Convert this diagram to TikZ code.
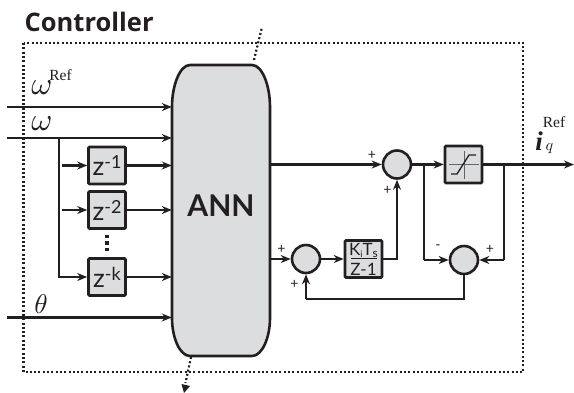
\documentclass[tikz,border=0pt]{standalone}
\usepackage{fontspec}
\setmainfont{Lato}
\newfontfamily\serifA{Liberation Serif}
\newfontfamily\titlef{Open Sans}
\usetikzlibrary{arrows.meta}
\definecolor{ink}{HTML}{231F20}
\definecolor{fillg}{HTML}{DCDDDF}
\newcommand{\fs}[1]{\fontsize{#1}{#1}\selectfont}
\newcommand{\zpow}[1]{\fs{26}z\raisebox{7pt}{\fs{18}-#1}}
\tikzset{
  x=1pt,y=-1pt,
  wire/.style={draw=ink,line width=2.4pt},
  sig/.style={wire,-{Stealth[length=10pt,width=8pt]}},
  sumnode/.style={circle,draw=ink,fill=fillg,line width=2.6pt,minimum size=28pt,inner sep=0pt},
  blockbox/.style={draw=ink,fill=fillg,line width=2.6pt,rounded corners=1pt,minimum width=37pt,minimum height=37pt,inner sep=0pt,text=ink},
  dotline/.style={draw=ink,line width=2.2pt,dash pattern=on 2pt off 2.3pt},
  signl/.style={inner sep=0pt,text=ink,font=\fs{14}},
  mathl/.style={inner sep=0pt,text=ink},
  refl/.style={inner sep=0pt,text=ink,font=\serifA\fs{15.5}},
}
\begin{document}
\begin{tikzpicture}
\useasboundingbox (0,0) rectangle (574,392);
% frame
\node[inner sep=0pt,text=ink,font=\titlef\bfseries\fs{25.5},anchor=west] (title) at (24.5,22) {Controller};
\coordinate (fa) at (23.5,43);
\coordinate (fb) at (523,372);
\draw[dotline] (fa) rectangle (fb);
% ANN
\path[draw=ink,fill=fillg,line width=2.6pt] (190,65) -- (252,65) .. controls (262,65) and (270,85) .. (270,107)
  -- (270,318) .. controls (270,338) and (262,356) .. (252,356) -- (190,356)
  .. controls (180,356) and (172,338) .. (172,318) -- (172,107) .. controls (172,85) and (180,65) .. (190,65) -- cycle;
\node[minimum width=98pt,minimum height=291pt,inner sep=0pt,text=ink,font=\bfseries\fs{30}] (ann) at (221,206) {ANN};
% delay blocks
\node[blockbox] (z1) at (107,165.5) {\zpow{1}};
\node[blockbox] (z2) at (107,210) {\zpow{2}};
\node[blockbox] (zk) at (107,277) {\zpow{k}};
% other blocks
\node[sumnode] (s1) at (397,164.5) {};
\node[sumnode] (s2) at (306,259) {};
\node[sumnode] (s3) at (464,260) {};
\node[blockbox] (sat) at (463.5,164.5) {};
\node[blockbox,font=\fs{15}] (ki) at (363.5,259) {};
\node[inner sep=0pt,text=ink,font=\fs{17}] (kit) at (363.5,250.5) {K\raisebox{-2pt}{\fs{9}i}T\raisebox{-2pt}{\fs{12}s}};
\node[inner sep=0pt,text=ink,font=\fs{17}] (kib) at (363.5,269) {Z-1};
\draw[ink,line width=1.2pt] (351,258.5) -- (377,258.5);
% saturation symbol
\draw[ink!70,line width=0.8pt] (449,164.5) -- (479,164.5) (464,151) -- (464,179);
\draw[ink,line width=1.3pt] (451,174) -- (457,174) -- (469,155) -- (476,155);
% inputs
\coordinate (inA) at (7,107);
\coordinate (inB) at (7,138);
\coordinate (inC) at (7,317.5);
\draw[sig] (inA) -- (ann.west |- inA);
\draw[sig] (inB) -- (ann.west |- inB);
\draw[sig] (inC) -- (ann.west |- inC);
\coordinate (tap) at (59,138);
\draw[wire] (tap) -- (59,277) -- (62,277);
\coordinate (b1) at (62,165.5);
\coordinate (b2) at (62,210);
\draw[sig] (b1) -- (z1);
\draw[sig] (b2) -- (z2);
\draw[sig] (59,277) -- (zk);
\draw[sig] (z1) -- (ann.west |- z1);
\draw[sig] (z2) -- (ann.west |- z2);
\draw[sig] (zk) -- (ann.west |- zk);
% dots
\draw[ink,line width=4pt,dash pattern=on 3.5pt off 3pt] (107,234.5) -- (107,252.5);
% outputs of ANN
\draw[sig] (ann.east |- s1) -- (s1);
\draw[sig] (ann.east |- s2) -- (s2);
\draw[sig] (s1) -- (sat);
\draw[sig] (s2) -- (ki);
\draw[wire] (ki) -| (397,190);
\draw[sig] (397,190) -- (s1.south);
\coordinate (out) at (574,164.5);
\draw[sig] (sat) -- (out);
\coordinate (t1) at (424,164.5);
\coordinate (t2) at (504,164.5);
\draw[wire] (t1) -- (424,260);
\draw[sig] (424,260) -- (s3);
\draw[wire] (t2) -- (504,260);
\draw[sig] (504,260) -- (s3);
\draw[wire] (s3) -- (464,299) -- (306,299);
\draw[sig] (306,299) -- (s2);
% dotted links
\coordinate (topend) at (262,27);
\coordinate (botend) at (184,390);
\draw[dotline] (254,60) -- (topend);
\draw[dotline] (191,357) -- (185.5,383);
\draw[draw=none,fill=ink] (181.5,384) -- (190,386) -- (184,393) -- cycle;
% labels
\node[mathl] (lw1) at (42,87.5) {\scalebox{3.2}{$\omega$}};
\node[refl] (lr1) at (60.5,75) {Ref};
\node[mathl] (lw2) at (42,124) {\scalebox{3.2}{$\omega$}};
\node[mathl] (lth) at (41,304) {\scalebox{2.7}{$\theta$}};
\node[mathl,font=\serifA\bfseries\itshape\fs{27}] (liq) at (539,141) {i};
\node[mathl] (lq) at (549.5,149) {\scalebox{1.6}{$q$}};
\node[refl] (lr2) at (554,122.5) {Ref};
\node[signl] at (372,155.5) {+};
\node[signl] at (387.5,190) {+};
\node[signl] at (281.5,249.5) {+};
\node[signl] at (294.5,284.5) {+};
\node[signl] at (438,247.5) {-};
\node[signl] at (490,249.5) {+};
\end{tikzpicture}
\end{document}
